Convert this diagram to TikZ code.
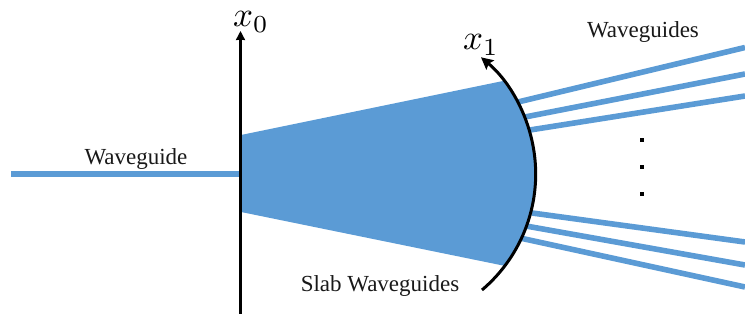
\documentclass[tikz,border=0pt]{standalone}
\usepackage{fontspec}
\setmainfont{Liberation Serif}
\usetikzlibrary{arrows.meta}
\definecolor{guide}{HTML}{5B9BD5}
\tikzset{
  x=1pt,y=1pt,
  guideline/.style={draw=guide,line width=5.6pt},
  axisline/.style={draw=black,line width=3pt},
  lbl/.style={inner sep=0pt,font=\fontsize{23}{25}\selectfont,text=black!90},
  mathlbl/.style={inner sep=0pt,scale=3.5},
  dotmark/.style={fill=black,minimum size=3.5pt,inner sep=0pt,draw=none},
}
\begin{document}
\begin{tikzpicture}
\useasboundingbox (0,0) rectangle (745,320);
% coordinates: y measured upward = 320 - image y
\coordinate (wgL) at (11,145.5);
\coordinate (wgR) at (241,145.5);
\coordinate (axB) at (240.5,6);
\coordinate (axT) at (240.5,289);
\coordinate (arcC) at (383.5,146);
\coordinate (arcS) at (482,30);
% slab
\fill[guide] (241,185) -- (503,239) arc[start angle=37.9,end angle=-37.3,radius=151.4] -- (241,108) -- cycle;
% input waveguide
\draw[guideline,line width=6pt] (wgL) -- (wgR);
% output waveguides
\coordinate (a1) at (518,218); \coordinate (b1) at (745,272.5);
\coordinate (a2) at (525,203); \coordinate (b2) at (745,246);
\coordinate (a3) at (530,190); \coordinate (b3) at (745,224);
\coordinate (a4) at (532,107); \coordinate (b4) at (745,78);
\coordinate (a5) at (526,94);  \coordinate (b5) at (745,55);
\coordinate (a6) at (520,82);  \coordinate (b6) at (745,33);
\foreach \n in {1,...,6}{\draw[guideline] (a\n) -- (b\n);}
% axes
\draw[axisline,-{Stealth[length=9pt,width=9pt,inset=0.5pt]}] (axB) -- (axT);
\draw[axisline,-{Stealth[length=12pt,width=12pt,inset=2pt]}] (arcS) arc[start angle=-49.7,end angle=50.2,radius=152];
% dots
\node[dotmark] (d1) at (642,180) {};
\node[dotmark] (d2) at (642,153) {};
\node[dotmark] (d3) at (642,126) {};
% labels
\node[mathlbl] (x0) at (251,298) {$x_0$};
\node[mathlbl] (x1) at (481,275) {$x_1$};
\node[lbl] (t1) at (136,161) {Waveguide};
\node[lbl] (t2) at (643,288) {Waveguides};
\node[lbl] (t3) at (380,34) {Slab Waveguides};
\end{tikzpicture}
\end{document}
